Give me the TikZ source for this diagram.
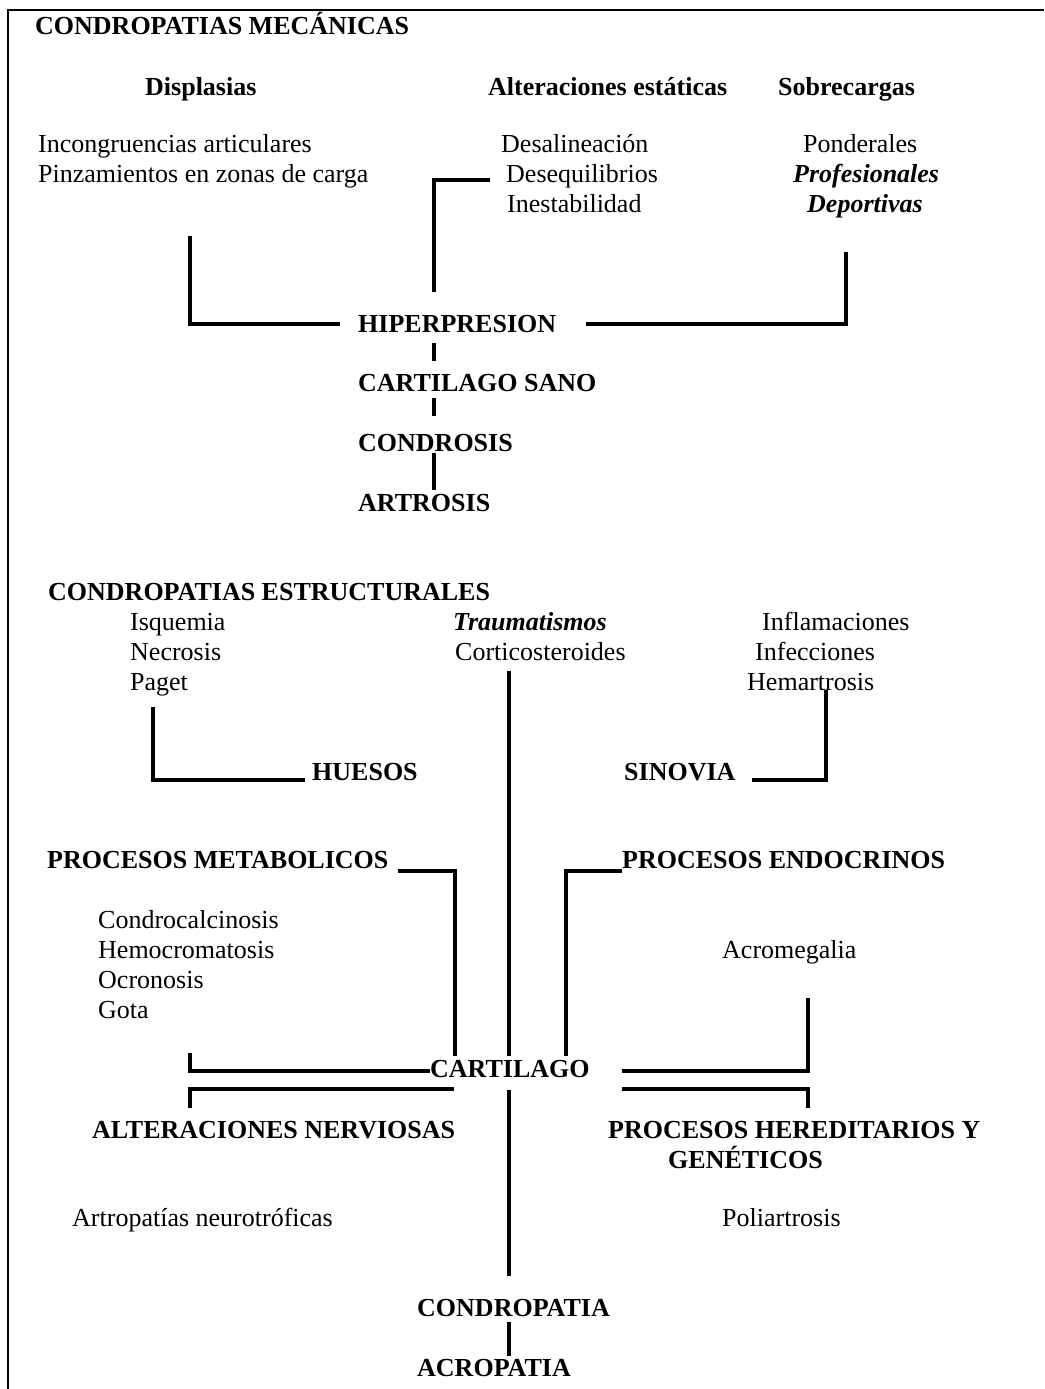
\documentclass[tikz,border=0pt]{standalone}
\usepackage{fontspec}
\setmainfont{Liberation Serif}
\begin{document}
\begin{tikzpicture}[x=1pt,y=-1pt,
  txt/.style={font=\fontsize{26}{30}\selectfont, inner sep=0pt, anchor=west, text height=17pt, text depth=0pt},
  bld/.style={txt, font=\fontsize{26}{30}\selectfont\bfseries},
  bit/.style={txt, font=\fontsize{26}{30}\selectfont\bfseries\itshape},
  conn/.style={line width=4pt, line join=miter},
  frame/.style={line width=2pt}]
\useasboundingbox (0,0) rectangle (1044,1389);
% frame
\coordinate (fr1) at (1044,10);
\coordinate (fr2) at (8,10);
\coordinate (fr3) at (8,1389);
\draw[frame] (fr1) -- (fr2) -- (fr3);

% ---------- top section ----------
\node[bld] (mec) at (35,26) {CONDROPATIAS MECÁNICAS};
\node[bld] (displ) at (145,87) {Displasias};
\node[bld] (alter) at (488,87) {Alteraciones estáticas};
\node[bld] (sobre) at (778,87) {Sobrecargas};
\node[txt] (incong) at (38,144) {Incongruencias articulares};
\node[txt] (pinz) at (38,174) {Pinzamientos en zonas de carga};
\node[txt] (desal) at (501,144) {Desalineación};
\node[txt] (deseq) at (506,174) {Desequilibrios};
\node[txt] (inest) at (507,204) {Inestabilidad};
\node[txt] (pond) at (803,144) {Ponderales};
\node[bit] (prof) at (793,174) {Profesionales};
\node[bit] (depor) at (807,204) {Deportivas};

\node[bld] (hiper) at (358,324) {HIPERPRESION};
\node[bld] (sano) at (358,383) {CARTILAGO SANO};
\node[bld] (condrosis) at (358,443) {CONDROSIS};
\node[bld] (artrosis) at (358,503) {ARTROSIS};

\coordinate (a1) at (190,236);
\coordinate (a2) at (190,324);
\coordinate (a3) at (340,324);
\draw[conn] (a1) -- (a2) -- (a3);
\coordinate (b1) at (490,180);
\coordinate (b2) at (434,180);
\coordinate (b3) at (434,292);
\draw[conn] (b1) -- (b2) -- (b3);
\coordinate (c1) at (586,324);
\coordinate (c2) at (846,324);
\coordinate (c3) at (846,252);
\draw[conn] (c1) -- (c2) -- (c3);
\coordinate (d1) at (434,343);
\coordinate (d2) at (434,361);
\draw[conn] (d1) -- (d2);
\coordinate (e1) at (434,398);
\coordinate (e2) at (434,416);
\draw[conn] (e1) -- (e2);
\coordinate (f1) at (434,453);
\coordinate (f2) at (434,490);
\draw[conn] (f1) -- (f2);

% ---------- structural section ----------
\node[bld] (estr) at (48,592) {CONDROPATIAS ESTRUCTURALES};
\node[txt] (isq) at (130,622) {Isquemia};
\node[txt] (necr) at (130,652) {Necrosis};
\node[txt] (paget) at (130,682) {Paget};
\node[bit] (trauma) at (453,622) {Traumatismos};
\node[txt] (cortico) at (455,652) {Corticosteroides};
\node[txt] (infl) at (762,622) {Inflamaciones};
\node[txt] (infec) at (755,652) {Infecciones};
\node[txt] (hemar) at (747,682) {Hemartrosis};
\node[bld] (huesos) at (312,772) {HUESOS};
\node[bld] (sinovia) at (624,772) {SINOVIA};

\node[bld] (metab) at (47,860) {PROCESOS METABOLICOS};
\node[bld] (endoc) at (622,860) {PROCESOS ENDOCRINOS};
\node[txt] (condroc) at (98,920) {Condrocalcinosis};
\node[txt] (hemoc) at (98,950) {Hemocromatosis};
\node[txt] (ocron) at (98,980) {Ocronosis};
\node[txt] (gota) at (98,1010) {Gota};
\node[txt] (acrom) at (722,950) {Acromegalia};

\node[bld] (cart) at (430,1069) {CARTILAGO};
\node[bld] (nerv) at (92,1130) {ALTERACIONES NERVIOSAS};
\node[bld] (hered) at (608,1130) {PROCESOS HEREDITARIOS Y};
\node[bld] (genet) at (668,1160) {GENÉTICOS};
\node[txt] (artrop) at (72,1218) {Artropatías neurotróficas};
\node[txt] (poliar) at (722,1218) {Poliartrosis};

\node[bld] (condropatia) at (417,1308) {CONDROPATIA};
\node[bld] (acropatia) at (417,1368) {ACROPATIA};

% connectors
\coordinate (g1) at (153,707);
\coordinate (g2) at (153,780);
\coordinate (g3) at (305,780);
\draw[conn] (g1) -- (g2) -- (g3);
\coordinate (h1) at (752,780);
\coordinate (h2) at (826,780);
\coordinate (h3) at (826,690);
\draw[conn] (h1) -- (h2) -- (h3);
\coordinate (i1) at (509,671);
\coordinate (i2) at (509,1056);
\draw[conn] (i1) -- (i2);
\coordinate (j1) at (398,871);
\coordinate (j2) at (455,871);
\coordinate (j3) at (455,1056);
\draw[conn] (j1) -- (j2) -- (j3);
\coordinate (k1) at (622,871);
\coordinate (k2) at (566,871);
\coordinate (k3) at (566,1056);
\draw[conn] (k1) -- (k2) -- (k3);
\coordinate (l1) at (190,1053);
\coordinate (l2) at (190,1071);
\draw[conn] (l1) -- (l2) -- (cart.west |- l2);
\coordinate (m1) at (622,1071);
\coordinate (m2) at (808,1071);
\coordinate (m3) at (808,998);
\draw[conn] (m1) -- (m2) -- (m3);
\coordinate (n1) at (190,1108);
\coordinate (n2) at (190,1089);
\coordinate (n3) at (454,1089);
\draw[conn] (n1) -- (n2) -- (n3);
\coordinate (o1) at (622,1089);
\coordinate (o2) at (808,1089);
\coordinate (o3) at (808,1108);
\draw[conn] (o1) -- (o2) -- (o3);
\coordinate (p1) at (509,1090);
\coordinate (p2) at (509,1276);
\draw[conn] (p1) -- (p2);
\coordinate (q1) at (509,1322);
\coordinate (q2) at (509,1356);
\draw[conn] (q1) -- (q2);
\end{tikzpicture}
\end{document}
